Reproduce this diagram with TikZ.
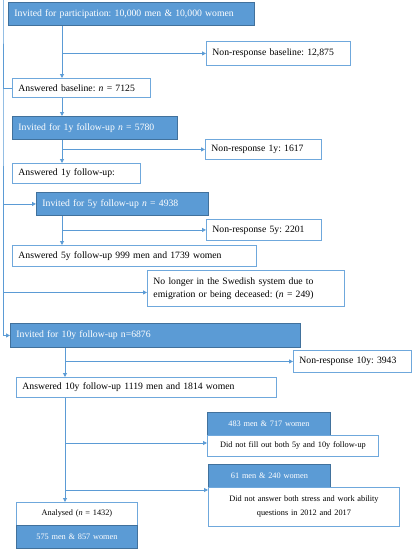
\documentclass[tikz,border=0pt]{standalone}
\usepackage{fontspec}
\setmainfont{Liberation Serif}
\frenchspacing
\usetikzlibrary{arrows.meta}
\definecolor{bfill}{HTML}{5B9BD5}
\definecolor{bdark}{HTML}{41719C}
\definecolor{bline}{HTML}{6FA8DC}
\tikzset{
  base/.style={anchor=north west, inner xsep=6pt, inner ysep=0pt, font=\fontsize{9.7}{12.5}\selectfont, line width=0.9pt},
  wbox/.style={base, draw=bline, fill=white, text=black, align=left},
  fbox/.style={base, draw=bdark, fill=bfill, text=white, align=left},
  cwbox/.style={wbox, align=center, inner xsep=2pt, font=\fontsize{8.3}{14}\selectfont},
  cfbox/.style={fbox, align=center, inner xsep=2pt, font=\fontsize{8.3}{14}\selectfont},
  arr/.style={draw=bfill, line width=0.9pt, -{Triangle[length=4pt,width=4pt]}},
  ln/.style={draw=bfill, line width=0.9pt}
}
\begin{document}
\begin{tikzpicture}[x=1pt,y=-1pt]
\useasboundingbox (0,0) rectangle (413,550);
\coordinate (c1) at (62,0);
\coordinate (c2) at (65,0);
\coordinate (L) at (3,0);

\node[fbox, text width=234pt, minimum height=23pt] (b1) at (8,2) {Invited for participation: 10,000 men \& 10,000 women};
\node[wbox, text width=132pt, minimum height=24pt] (nrb) at (206,41) {Non-response baseline: 12,875};
\node[wbox, text width=126pt, minimum height=19pt] (ab) at (12,78) {Answered baseline: \textit{n} = 7125};
\node[fbox, text width=153pt, minimum height=23pt] (i1) at (12,116) {Invited for 1y follow-up \textit{n} = 5780};
\node[wbox, text width=104pt, minimum height=20pt] (nr1) at (205,139) {Non-response 1y: 1617};
\node[wbox, text width=116pt, minimum height=20pt] (a1) at (12,163) {Answered 1y follow-up:};
\node[fbox, text width=160pt, minimum height=23pt] (i5) at (36,192) {Invited for 5y follow-up \textit{n} = 4938};
\node[wbox, text width=103pt, minimum height=21pt] (nr5) at (206,219) {Non-response 5y: 2201};
\node[wbox, text width=232pt, minimum height=21pt] (a5) at (12,245) {Answered 5y follow-up 999 men and 1739 women};
\node[wbox, text width=185pt, minimum height=36pt] (nl) at (147,270) {No longer in the Swedish system due to\\emigration or being deceased: (\textit{n} = 249)};
\node[fbox, text width=278pt, minimum height=24pt] (i10) at (10,323) {Invited for 10y follow-up n=6876};
\node[wbox, text width=106pt, minimum height=22pt] (nr10) at (293,350) {Non-response 10y: 3943};
\node[wbox, text width=248pt, minimum height=20pt] (a10) at (16,377) {Answered 10y follow-up 1119 men and 1814 women};
\node[cfbox, text width=119pt, minimum height=23pt] (f1) at (207,412) {483 men \& 717 women};
\node[cwbox, text width=167pt, minimum height=21pt] (f1b) at (207,435) {Did not fill out both 5y and 10y follow-up};
\node[cfbox, text width=118pt, minimum height=23pt] (f2) at (208,464) {61 men \& 240 women};
\node[cwbox, text width=187pt, minimum height=39pt] (f2b) at (208,487) {Did not answer both stress and work ability\\questions in 2012 and 2017};
\node[cwbox, text width=117pt, minimum height=23pt] (an) at (16,502) {Analysed (\textit{n} = 1432)};
\node[cfbox, text width=117pt, minimum height=23pt] (anb) at (16,525) {575 men \& 857 women};

\draw[arr] (b1.south -| c1) -- (ab.north -| c1);
\draw[arr] (c1 |- nrb.west) -- (nrb.west);
\draw[arr] (i1.south -| c1) -- (a1.north -| c1);
\draw[arr] (c1 |- nr1.west) -- (nr1.west);
\draw[arr] (i5.south -| c1) -- (a5.north -| c1);
\draw[arr] (c1 |- nr5.west) -- (nr5.west);
\draw[arr] (ab.south -| c1) -- (i1.north -| c1);

\draw[arr] (ab.west) -| (L) |- (i10.west);
\draw[arr] (L |- i5.west) -- (i5.west);
\draw[arr] ([yshift=-4pt]L |- nl.west) -- ([yshift=-4pt]nl.west);

\draw[arr] (i10.south -| c2) -- (a10.north -| c2);
\draw[arr] (c2 |- nr10.west) -- (nr10.west);
\draw[arr] (a10.south -| c2) -- (an.north -| c2);
\draw[arr] ([yshift=-8pt]c2 |- f1b.north west) -- ([yshift=-8pt]f1b.north west);
\draw[arr] ([yshift=-3pt]c2 |- f2b.north west) -- ([yshift=-3pt]f2b.north west);
\end{tikzpicture}
\end{document}
